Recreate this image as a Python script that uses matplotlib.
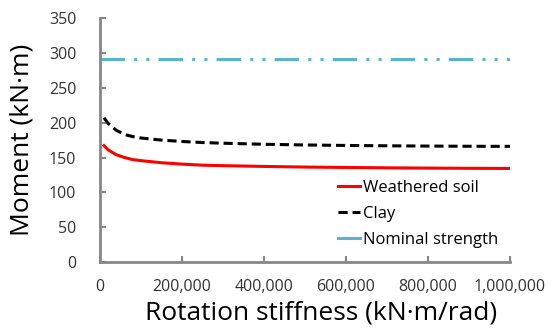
import matplotlib.pyplot as plt
from matplotlib.ticker import FuncFormatter

plt.rcParams['font.family'] = ['Open Sans', 'DejaVu Sans']

stiffness = [10000, 20000, 40000, 60000, 80000, 100000, 150000, 200000, 250000,
             300000, 400000, 500000, 600000, 700000, 800000, 900000, 1000000]
weathered = [167, 161, 154, 150, 147, 145.5, 142.5, 140.5, 139, 138.3, 137.2,
             136.3, 135.7, 135.2, 134.8, 134.5, 134.3]
clay = [207, 199, 189, 183, 180, 178, 175, 173, 171.5, 170.5, 169, 168,
        167.3, 166.8, 166.4, 166.1, 166]
nominal_x = [0, 1000000]
nominal = [292, 292]

fig = plt.figure(figsize=(5.49, 3.3), dpi=100)
ax = fig.add_axes([0.182, 0.206, 0.747, 0.739])

ax.plot(stiffness, weathered, color='#ff0000', lw=2.2, label='Weathered soil')
ax.plot(stiffness, clay, color='black', lw=2.2, ls=(0, (3, 1.6)), label='Clay')
ax.plot(nominal_x, nominal, color='#5bb4cf', lw=2.2,
        ls=(0, (8, 3, 1, 3, 1, 3)), label='Nominal strength')

ax.set_xlim(0, 1000000)
ax.set_ylim(0, 350)
ax.set_xticks(range(0, 1000001, 200000))
ax.set_yticks(range(0, 351, 50))
ax.xaxis.set_major_formatter(FuncFormatter(lambda v, p: f'{int(v):,}'))

for s in ['top', 'right']:
    ax.spines[s].set_visible(False)
for s in ['left', 'bottom']:
    ax.spines[s].set_color('#868686')
    ax.spines[s].set_linewidth(2)
ax.tick_params(direction='in', length=4, width=1.5, color='#868686',
               labelsize=11.5, labelcolor='#333333')
ax.tick_params(axis='x', pad=12)
ax.tick_params(axis='y', pad=17)

ax.set_xlabel('Rotation stiffness (kN·m/rad)', fontsize=19)
ax.set_ylabel('Moment (kN·m)', fontsize=19)
ax.xaxis.set_label_coords(0.54, -0.158)
ax.yaxis.set_label_coords(-0.16, 0.5)

leg = ax.legend(loc='upper left', bbox_to_anchor=(0.616, 0.455),
                bbox_transform=fig.transFigure, frameon=False, borderpad=0,
                borderaxespad=0, fontsize=12, handlelength=1.32,
                handletextpad=0.15, labelspacing=0.6)
leg.get_lines()[2].set_linestyle('-')

fig.savefig('out.png', dpi=100)
